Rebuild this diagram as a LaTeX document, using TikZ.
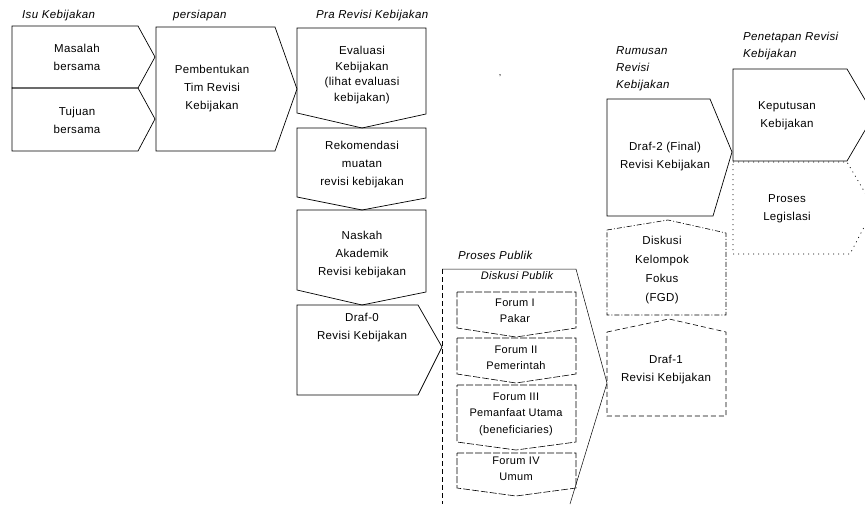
\documentclass[tikz,border=0pt]{standalone}
\usepackage{fontspec}
\setmainfont{Liberation Sans}[LetterSpace=3]
\begin{document}
\begin{tikzpicture}[x=1pt,y=-1pt,
  box/.style={draw=black, line width=0.7pt, line join=miter},
  dashbox/.style={draw=black, line width=0.6pt, dash pattern=on 5pt off 3pt},
  dashdotbox/.style={draw=black, line width=0.6pt, dash pattern=on 5pt off 2pt on 1pt off 2pt},
  dotbox/.style={draw=black, line width=0.7pt, dash pattern=on 1pt off 4pt},
  forumbox/.style={draw=black, line width=0.6pt, dash pattern=on 7pt off 2pt},
  txt/.style={font=\fontsize{11.5}{18}\selectfont, align=center, inner sep=0pt},
  ftxt/.style={font=\fontsize{11}{16.5}\selectfont, align=center, inner sep=0pt},
  head/.style={font=\fontsize{11.5}{17}\selectfont\itshape, align=left, inner sep=0pt},
]
\useasboundingbox (0,0) rectangle (865,504);
\clip (0,0) rectangle (865,504);

% headings
\node[head, anchor=west] (hIsu) at (22,16) {Isu Kebijakan};
\node[head, anchor=west] (hPers) at (173,16) {persiapan};
\node[head, anchor=west] (hPra) at (316,16) {Pra Revisi Kebijakan};
\node[head, anchor=north west] (hRum) at (616,46) {Rumusan\\Revisi\\Kebijakan};
\node[head, anchor=north west] (hPen) at (743,32) {Penetapan Revisi\\Kebijakan};
\node[head, anchor=west] (hPP) at (458,255) {Proses Publik};
\node[inner sep=0pt, font=\fontsize{9}{9}\selectfont] (mark) at (500,76) {,};

% Isu Kebijakan
\draw[box] (12,26) -- (138,26) -- (155,57) -- (138,88) -- (12,88) -- cycle;
\node[txt] (masalah) at (77,57) {Masalah\\bersama};
\draw[box] (12,88) -- (138,88) -- (155,119) -- (138,151) -- (12,151) -- cycle;
\node[txt] (tujuan) at (77,120) {Tujuan\\bersama};

% persiapan
\draw[box] (156,27) -- (275,27) -- (297,89) -- (275,151) -- (156,151) -- cycle;
\node[txt] (tim) at (212,89) {Pembentukan\\Tim Revisi\\Kebijakan};

% Pra revisi
\draw[box] (297,28) -- (426,28) -- (426,114) -- (362,128) -- (297,113) -- cycle;
\node[txt, font=\fontsize{11.5}{15.5}\selectfont] (eval) at (362,75) {Evaluasi\\Kebijakan\\(lihat evaluasi\\kebijakan)};
\draw[box] (297,128) -- (426,128) -- (426,198) -- (362,210) -- (297,197) -- cycle;
\node[txt] (rekom) at (362,165) {Rekomendasi\\muatan\\revisi kebijakan};
\draw[box] (297,210) -- (426,210) -- (426,292) -- (362,305) -- (297,290) -- cycle;
\node[txt] (naskah) at (362,255) {Naskah\\Akademik\\Revisi kebijakan};
\draw[box] (297,305) -- (418,305) -- (442,347) -- (418,395) -- (297,395) -- cycle;
\node[txt] (draf0) at (362,328) {Draf-0\\Revisi Kebijakan};

% Proses publik
\draw[box, line width=0.5pt] (442,269) -- (576,269) -- (607,383) -- (570,504);
\draw[dashbox] (442,269) -- (442,504);
\node[head, font=\fontsize{11}{12}\selectfont\itshape] (diskusi) at (517,276) {Diskusi Publik};
\draw[forumbox] (457,292) -- (576,292) -- (576,328) -- (516,337) -- (457,328) -- cycle;
\node[ftxt] (f1) at (515,311) {Forum I\\Pakar};
\draw[forumbox] (457,338) -- (576,338) -- (576,374) -- (516,383) -- (457,374) -- cycle;
\node[ftxt] (f2) at (516,358) {Forum II\\Pemerintah};
\draw[forumbox] (457,385) -- (576,385) -- (576,442) -- (516,450) -- (457,442) -- cycle;
\node[ftxt] (f3) at (516,414) {Forum III\\Pemanfaat Utama\\(beneficiaries)};
\draw[forumbox] (457,453) -- (576,453) -- (576,488) -- (516,496) -- (457,488) -- cycle;
\node[ftxt] (f4) at (516,469) {Forum IV\\Umum};

% Rumusan
\draw[dashbox] (607,332) -- (669,319) -- (726,332) -- (726,416) -- (607,416) -- cycle;
\node[txt] (draf1) at (666,370) {Draf-1\\Revisi Kebijakan};
\draw[dashdotbox] (607,230) -- (668,220) -- (726,233) -- (726,315) -- (607,315) -- cycle;
\node[txt, font=\fontsize{11.5}{19}\selectfont] (fgd) at (662,270) {Diskusi\\Kelompok\\Fokus\\(FGD)};
\draw[box] (607,99) -- (710,99) -- (732,152) -- (713,216) -- (607,216) -- cycle;
\node[txt] (draf2) at (665,157) {Draf-2 (Final)\\Revisi Kebijakan};

% Penetapan
\draw[box] (733,69) -- (847,69) -- (874,115) -- (847,161) -- (733,161) -- cycle;
\node[txt] (keput) at (787,116) {Keputusan\\Kebijakan};
\draw[dotbox] (733,162) -- (847,162) -- (874,208) -- (850,254) -- (733,254) -- cycle;
\node[txt] (legis) at (787,209) {Proses\\Legislasi};
\end{tikzpicture}
\end{document}
